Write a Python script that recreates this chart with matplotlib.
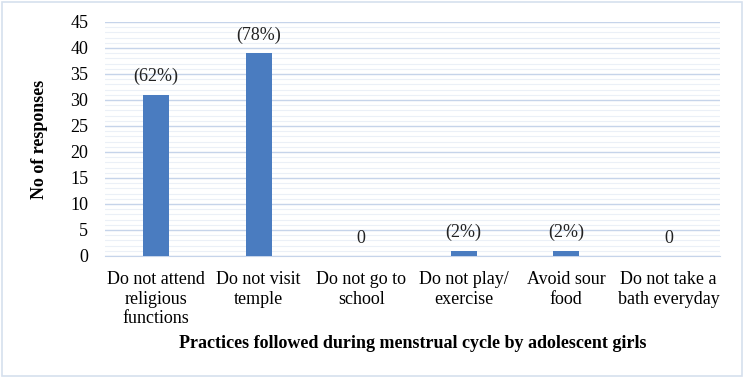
import matplotlib
matplotlib.use("Agg")
import matplotlib.pyplot as plt
from matplotlib.patches import Rectangle
from matplotlib.ticker import MultipleLocator

categories = ["Do not attend\nreligious\nfunctions", "Do not visit\ntemple", "Do not go to\nschool",
              "Do not play/\nexercise", "Avoid sour\nfood", "Do not take a\nbath everyday"]
values = [31, 39, 0, 1, 1, 0]
labels = ["(62%)", "(78%)", "0", "(2%)", "(2%)", "0"]
yticks = list(range(0, 50, 5))

plt.rcParams['font.family'] = ['Liberation Serif', 'DejaVu Serif']

fig = plt.figure(figsize=(7.49, 3.78), dpi=100)
ax = fig.add_axes([105/749, 1-256/378, 615/749, 234/378])

x = range(len(categories))
ax.bar(x, values, width=0.25, color="#4a7cc0", zorder=3)
for xi, v, lab in zip(x, values, labels):
    ax.text(xi, v + 1.8, lab, ha="center", va="bottom", fontsize=13, color="#222222")

ax.set_xlim(-0.5, len(categories) - 0.5)
ax.set_ylim(0, 45)
ax.set_yticks(yticks)
ax.yaxis.set_minor_locator(MultipleLocator(1))
ax.grid(axis="y", which="major", color="#c6d4ea", linewidth=1.0, zorder=0)
ax.grid(axis="y", which="minor", color="#ebf0f7", linewidth=0.8, zorder=0)
ax.set_xticks(list(x))
ax.set_xticklabels(categories, fontsize=13, linespacing=1.18)
ax.tick_params(axis="y", labelsize=13, length=0, pad=12)
ax.tick_params(axis="x", length=0, pad=11, which="both")
ax.tick_params(axis="y", which="minor", length=0)
for s in ["top", "right", "left"]:
    ax.spines[s].set_visible(False)
ax.spines["bottom"].set_color("#c6d4ea")

ax.set_ylabel("No of responses", fontsize=13, fontweight="bold", labelpad=16)
fig.text(413/749, 1-343/378, "Practices followed during menstrual cycle by adolescent girls",
         ha="center", va="center", fontsize=13, fontweight="bold")

fig.patches.append(Rectangle((2/749, 2/378), 740/749, 374/378, transform=fig.transFigure,
                             fill=False, edgecolor="#d6e0ee", linewidth=1.2))

fig.savefig("out.png", dpi=100)
